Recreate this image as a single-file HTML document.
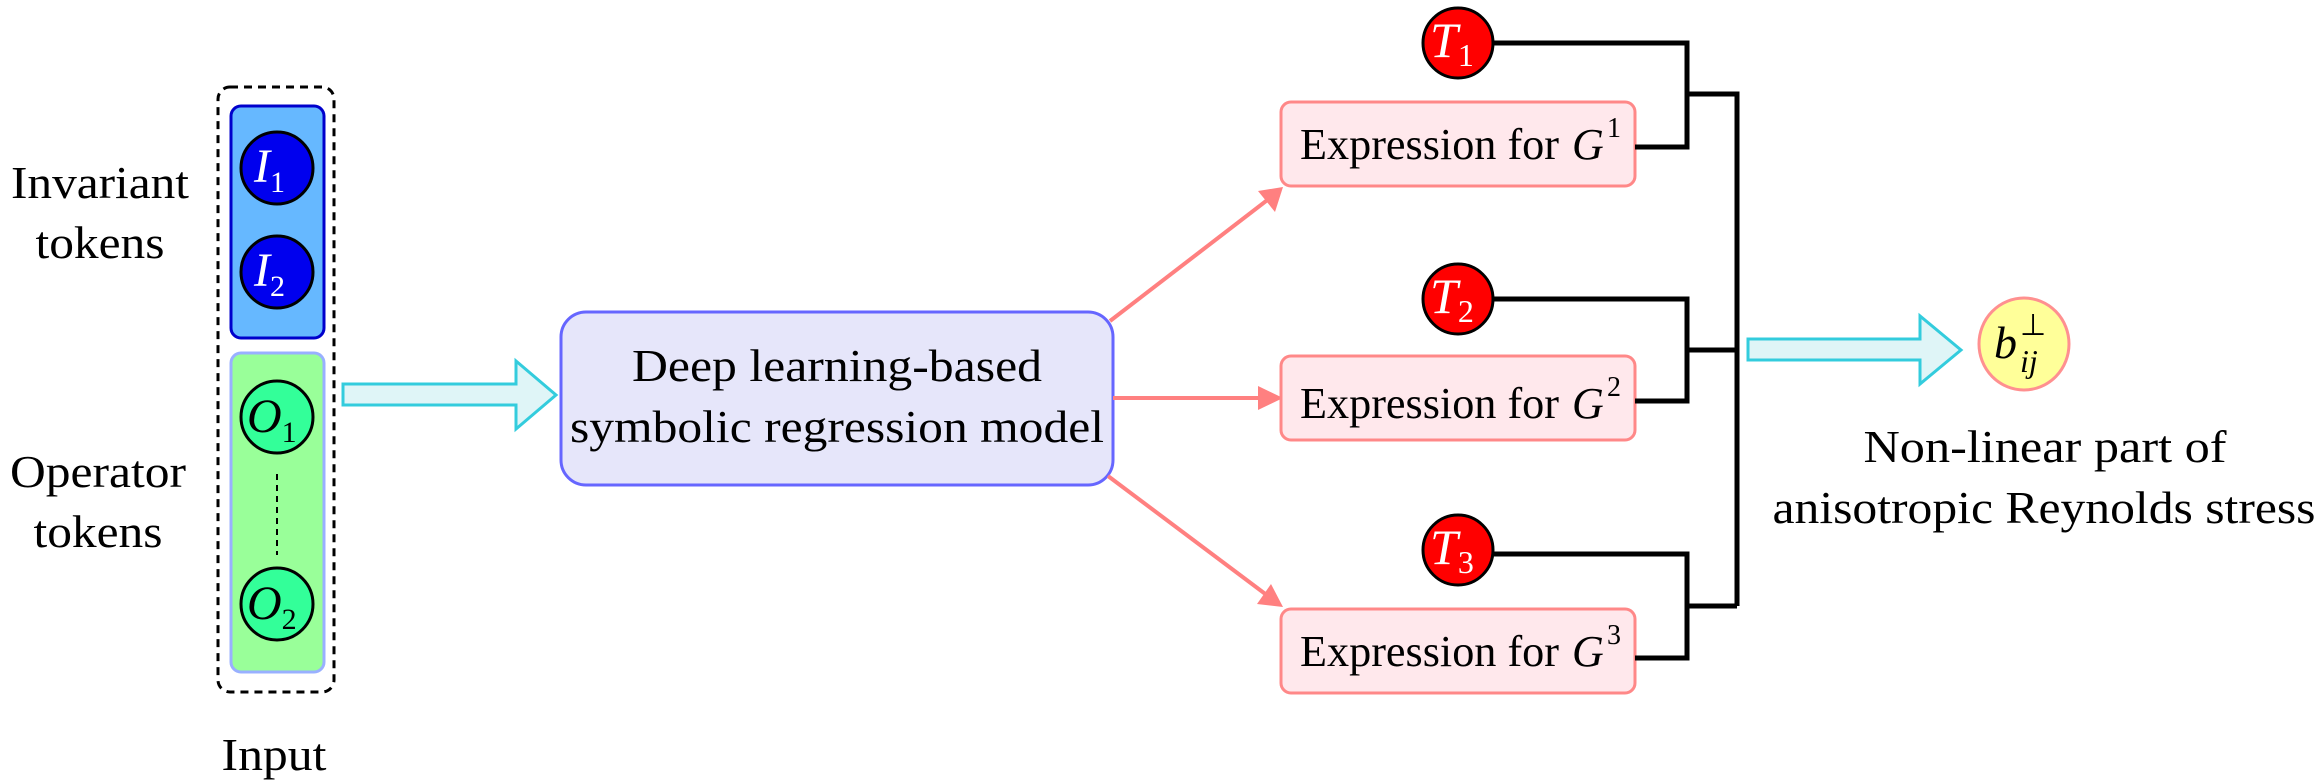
<!DOCTYPE html>
<html><head><meta charset="utf-8"><style>html,body{margin:0;padding:0;background:#fff}svg{display:block}</style></head>
<body>
<svg width="2321" height="784" viewBox="0 0 2321 784" xmlns="http://www.w3.org/2000/svg" font-family="Liberation Serif, serif">
<g font-size="46" fill="#000" text-anchor="middle">
<text x="100" y="198" textLength="178" lengthAdjust="spacingAndGlyphs">Invariant</text>
<text x="100" y="258" textLength="129" lengthAdjust="spacingAndGlyphs">tokens</text>
<text x="98" y="487" textLength="176" lengthAdjust="spacingAndGlyphs">Operator</text>
<text x="98" y="547" textLength="129" lengthAdjust="spacingAndGlyphs">tokens</text>
<text x="274" y="770" textLength="105" lengthAdjust="spacingAndGlyphs">Input</text>
</g>
<rect x="218" y="87" width="116" height="605" rx="12" fill="none" stroke="#000" stroke-width="3" stroke-dasharray="8,6"/>
<rect x="231" y="106" width="93" height="232" rx="10" fill="#66b8ff" stroke="#0000cc" stroke-width="3"/>
<rect x="231" y="353" width="93" height="319" rx="10" fill="#99ff99" stroke="#99b0ff" stroke-width="3"/>
<g stroke="#000" stroke-width="3">
<ellipse cx="277" cy="168" rx="36" ry="36" fill="#0000ee"/>
<ellipse cx="277" cy="272" rx="36" ry="36" fill="#0000ee"/>
<ellipse cx="277" cy="417" rx="36" ry="36" fill="#33ff99"/>
<ellipse cx="277" cy="604" rx="36" ry="36" fill="#33ff99"/>
</g>
<line x1="277" y1="474" x2="277" y2="555" stroke="#000" stroke-width="2" stroke-dasharray="6,5"/>
<g font-size="48" font-style="italic">
<text x="254" y="182" fill="#fff">I<tspan font-size="30" font-style="normal" dy="10">1</tspan></text>
<text x="254" y="286" fill="#fff">I<tspan font-size="30" font-style="normal" dy="10">2</tspan></text>
<text x="247" y="432" fill="#000">O<tspan font-size="30" font-style="normal" dy="10">1</tspan></text>
<text x="247" y="619" fill="#000">O<tspan font-size="30" font-style="normal" dy="10">2</tspan></text>
</g>
<polygon points="343,384 516,384 516,361 556,395 516,429 516,405 343,405" fill="#dff5f7" stroke="#33ccdd" stroke-width="3"/>
<rect x="561" y="312" width="552" height="173" rx="25" fill="#e6e6fa" stroke="#6666ff" stroke-width="3"/>
<g font-size="46" text-anchor="middle">
<text x="837" y="381" textLength="410" lengthAdjust="spacingAndGlyphs">Deep learning-based</text>
<text x="837" y="442" textLength="534" lengthAdjust="spacingAndGlyphs">symbolic regression model</text>
</g>
<g stroke="#ff8080" stroke-width="4" fill="#ff8080">
<line x1="1110" y1="321" x2="1270" y2="198"/>
<polygon points="1283,187 1258,191 1275,212" stroke="none"/>
<line x1="1113" y1="398" x2="1265" y2="398"/>
<polygon points="1283,398 1258,386 1258,410" stroke="none"/>
<line x1="1108" y1="476" x2="1268" y2="596"/>
<polygon points="1283,607 1271,584 1257,604" stroke="none"/>
</g>
<g fill="#ffe8ec" stroke="#ff8888" stroke-width="3">
<rect x="1281" y="102" width="354" height="84" rx="10"/>
<rect x="1281" y="356" width="354" height="84" rx="10"/>
<rect x="1281" y="609" width="354" height="84" rx="10"/>
</g>
<g font-size="44">
<text x="1300" y="159" textLength="259" lengthAdjust="spacingAndGlyphs">Expression for</text>
<text x="1572" y="159" font-style="italic">G</text><text x="1607" y="137" font-size="28">1</text>
<text x="1300" y="418" textLength="259" lengthAdjust="spacingAndGlyphs">Expression for</text>
<text x="1572" y="418" font-style="italic">G</text><text x="1607" y="396" font-size="28">2</text>
<text x="1300" y="666" textLength="259" lengthAdjust="spacingAndGlyphs">Expression for</text>
<text x="1572" y="666" font-style="italic">G</text><text x="1607" y="644" font-size="28">3</text>
</g>
<g fill="none" stroke="#000" stroke-width="5">
<polyline points="1494,43 1687,43 1687,147 1635,147"/>
<polyline points="1687,94 1737,94 1737,606"/>
<polyline points="1494,299 1687,299 1687,401 1635,401"/>
<line x1="1687" y1="350" x2="1737" y2="350"/>
<polyline points="1494,554 1687,554 1687,658 1635,658"/>
<line x1="1687" y1="606" x2="1737" y2="606"/>
</g>
<g stroke="#000" stroke-width="3" fill="#ff0000">
<circle cx="1458" cy="43" r="35"/>
<circle cx="1458" cy="299" r="35"/>
<circle cx="1458" cy="550" r="35"/>
</g>
<g font-size="50" font-style="italic" fill="#fff">
<text x="1430" y="57">T<tspan font-size="32" font-style="normal" dy="9">1</tspan></text>
<text x="1430" y="313">T<tspan font-size="32" font-style="normal" dy="9">2</tspan></text>
<text x="1430" y="564">T<tspan font-size="32" font-style="normal" dy="9">3</tspan></text>
</g>
<polygon points="1748,339 1920,339 1920,316 1961,350 1920,384 1920,360 1748,360" fill="#dff5f7" stroke="#33ccdd" stroke-width="3"/>
<ellipse cx="2024" cy="344" rx="45" ry="46" fill="#ffff99" stroke="#ff9090" stroke-width="3"/>
<text x="1994" y="358" font-size="46" font-style="italic">b</text>
<text x="2020" y="335" font-size="30">⊥</text>
<text x="2020" y="372" font-size="32" font-style="italic">ij</text>
<g font-size="46" text-anchor="middle">
<text x="2045" y="462" textLength="363" lengthAdjust="spacingAndGlyphs">Non-linear part of</text>
<text x="2044" y="523" textLength="543" lengthAdjust="spacingAndGlyphs">anisotropic Reynolds stress</text>
</g>
</svg>
</body></html>
